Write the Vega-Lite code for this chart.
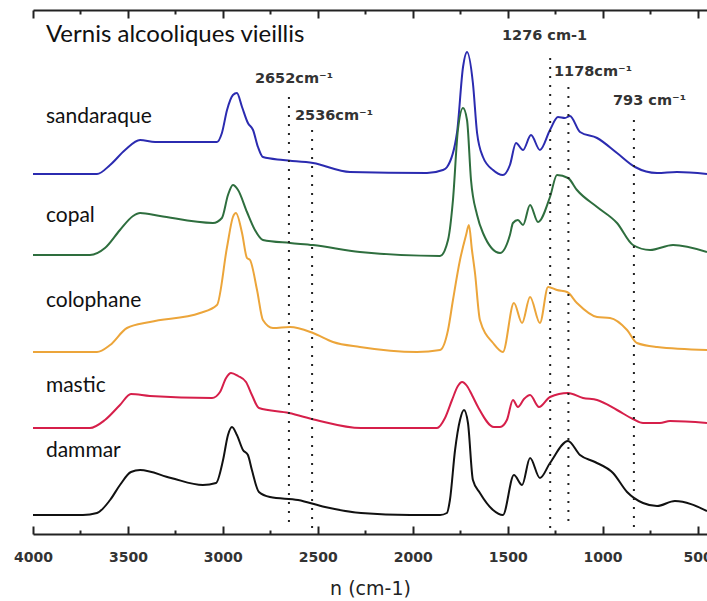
{
  "$schema": "https://vega.github.io/schema/vega-lite/v6.json",
  "width": 674,
  "height": 524,
  "autosize": {"type": "none"},
  "padding": {"left": 33, "top": 10, "right": 0, "bottom": 67},
  "background": "white",
  "config": {"view": {"stroke": null}},
  "datasets": {
    "spectra": [
      {"series": "sandaraque", "wn": 4000, "a": 362}, {"series": "sandaraque", "wn": 3663, "a": 362}, {"series": "sandaraque", "wn": 3594, "a": 371}, {"series": "sandaraque", "wn": 3515, "a": 386}, {"series": "sandaraque", "wn": 3436, "a": 396}, {"series": "sandaraque", "wn": 3357, "a": 394}, {"series": "sandaraque", "wn": 3031, "a": 394}, {"series": "sandaraque", "wn": 3005, "a": 403}, {"series": "sandaraque", "wn": 2978, "a": 426}, {"series": "sandaraque", "wn": 2947, "a": 441}, {"series": "sandaraque", "wn": 2926, "a": 443}, {"series": "sandaraque", "wn": 2899, "a": 429}, {"series": "sandaraque", "wn": 2868, "a": 413}, {"series": "sandaraque", "wn": 2841, "a": 406}, {"series": "sandaraque", "wn": 2815, "a": 389}, {"series": "sandaraque", "wn": 2789, "a": 379}, {"series": "sandaraque", "wn": 2683, "a": 376}, {"series": "sandaraque", "wn": 2525, "a": 373}, {"series": "sandaraque", "wn": 2330, "a": 364}, {"series": "sandaraque", "wn": 1925, "a": 363}, {"series": "sandaraque", "wn": 1841, "a": 366}, {"series": "sandaraque", "wn": 1819, "a": 369}, {"series": "sandaraque", "wn": 1767, "a": 403}, {"series": "sandaraque", "wn": 1735, "a": 469}, {"series": "sandaraque", "wn": 1714, "a": 484}, {"series": "sandaraque", "wn": 1683, "a": 453}, {"series": "sandaraque", "wn": 1661, "a": 403}, {"series": "sandaraque", "wn": 1630, "a": 379}, {"series": "sandaraque", "wn": 1577, "a": 366}, {"series": "sandaraque", "wn": 1525, "a": 361}, {"series": "sandaraque", "wn": 1488, "a": 371}, {"series": "sandaraque", "wn": 1456, "a": 393}, {"series": "sandaraque", "wn": 1419, "a": 386}, {"series": "sandaraque", "wn": 1377, "a": 401}, {"series": "sandaraque", "wn": 1330, "a": 386}, {"series": "sandaraque", "wn": 1277, "a": 406}, {"series": "sandaraque", "wn": 1235, "a": 419}, {"series": "sandaraque", "wn": 1198, "a": 418}, {"series": "sandaraque", "wn": 1172, "a": 420}, {"series": "sandaraque", "wn": 1119, "a": 404}, {"series": "sandaraque", "wn": 1029, "a": 398}, {"series": "sandaraque", "wn": 924, "a": 383}, {"series": "sandaraque", "wn": 829, "a": 369}, {"series": "sandaraque", "wn": 713, "a": 363}, {"series": "sandaraque", "wn": 608, "a": 364}, {"series": "sandaraque", "wn": 450, "a": 362},
      {"series": "copal", "wn": 4000, "a": 281}, {"series": "copal", "wn": 3700, "a": 281}, {"series": "copal", "wn": 3621, "a": 288}, {"series": "copal", "wn": 3542, "a": 306}, {"series": "copal", "wn": 3473, "a": 320}, {"series": "copal", "wn": 3436, "a": 323}, {"series": "copal", "wn": 3331, "a": 320}, {"series": "copal", "wn": 3052, "a": 313}, {"series": "copal", "wn": 3005, "a": 318}, {"series": "copal", "wn": 2973, "a": 341}, {"series": "copal", "wn": 2947, "a": 351}, {"series": "copal", "wn": 2920, "a": 346}, {"series": "copal", "wn": 2873, "a": 324}, {"series": "copal", "wn": 2831, "a": 306}, {"series": "copal", "wn": 2789, "a": 296}, {"series": "copal", "wn": 2646, "a": 293}, {"series": "copal", "wn": 2525, "a": 291}, {"series": "copal", "wn": 2278, "a": 284}, {"series": "copal", "wn": 1856, "a": 280}, {"series": "copal", "wn": 1814, "a": 296}, {"series": "copal", "wn": 1788, "a": 336}, {"series": "copal", "wn": 1762, "a": 406}, {"series": "copal", "wn": 1735, "a": 428}, {"series": "copal", "wn": 1714, "a": 416}, {"series": "copal", "wn": 1693, "a": 356}, {"series": "copal", "wn": 1661, "a": 321}, {"series": "copal", "wn": 1630, "a": 303}, {"series": "copal", "wn": 1540, "a": 283}, {"series": "copal", "wn": 1488, "a": 301}, {"series": "copal", "wn": 1472, "a": 313}, {"series": "copal", "wn": 1446, "a": 316}, {"series": "copal", "wn": 1419, "a": 311}, {"series": "copal", "wn": 1382, "a": 331}, {"series": "copal", "wn": 1340, "a": 314}, {"series": "copal", "wn": 1277, "a": 339}, {"series": "copal", "wn": 1240, "a": 361}, {"series": "copal", "wn": 1182, "a": 358}, {"series": "copal", "wn": 1135, "a": 346}, {"series": "copal", "wn": 1029, "a": 329}, {"series": "copal", "wn": 924, "a": 313}, {"series": "copal", "wn": 840, "a": 291}, {"series": "copal", "wn": 750, "a": 286}, {"series": "copal", "wn": 629, "a": 291}, {"series": "copal", "wn": 450, "a": 284},
      {"series": "colophane", "wn": 4000, "a": 184}, {"series": "colophane", "wn": 3663, "a": 184}, {"series": "colophane", "wn": 3594, "a": 191}, {"series": "colophane", "wn": 3505, "a": 208}, {"series": "colophane", "wn": 3384, "a": 214}, {"series": "colophane", "wn": 3120, "a": 223}, {"series": "colophane", "wn": 3031, "a": 231}, {"series": "colophane", "wn": 2978, "a": 289}, {"series": "colophane", "wn": 2947, "a": 319}, {"series": "colophane", "wn": 2931, "a": 323}, {"series": "colophane", "wn": 2899, "a": 303}, {"series": "colophane", "wn": 2873, "a": 278}, {"series": "colophane", "wn": 2857, "a": 276}, {"series": "colophane", "wn": 2820, "a": 246}, {"series": "colophane", "wn": 2789, "a": 216}, {"series": "colophane", "wn": 2736, "a": 208}, {"series": "colophane", "wn": 2646, "a": 209}, {"series": "colophane", "wn": 2525, "a": 203}, {"series": "colophane", "wn": 2420, "a": 194}, {"series": "colophane", "wn": 2278, "a": 189}, {"series": "colophane", "wn": 1978, "a": 184}, {"series": "colophane", "wn": 1856, "a": 186}, {"series": "colophane", "wn": 1814, "a": 206}, {"series": "colophane", "wn": 1788, "a": 236}, {"series": "colophane", "wn": 1751, "a": 276}, {"series": "colophane", "wn": 1719, "a": 301}, {"series": "colophane", "wn": 1704, "a": 311}, {"series": "colophane", "wn": 1688, "a": 286}, {"series": "colophane", "wn": 1672, "a": 263}, {"series": "colophane", "wn": 1646, "a": 216}, {"series": "colophane", "wn": 1577, "a": 193}, {"series": "colophane", "wn": 1525, "a": 184}, {"series": "colophane", "wn": 1467, "a": 233}, {"series": "colophane", "wn": 1424, "a": 213}, {"series": "colophane", "wn": 1382, "a": 239}, {"series": "colophane", "wn": 1330, "a": 213}, {"series": "colophane", "wn": 1287, "a": 249}, {"series": "colophane", "wn": 1240, "a": 246}, {"series": "colophane", "wn": 1187, "a": 244}, {"series": "colophane", "wn": 1135, "a": 233}, {"series": "colophane", "wn": 1029, "a": 219}, {"series": "colophane", "wn": 961, "a": 218}, {"series": "colophane", "wn": 871, "a": 206}, {"series": "colophane", "wn": 819, "a": 193}, {"series": "colophane", "wn": 713, "a": 189}, {"series": "colophane", "wn": 450, "a": 186},
      {"series": "mastic", "wn": 4000, "a": 108}, {"series": "mastic", "wn": 3700, "a": 108}, {"series": "mastic", "wn": 3621, "a": 116}, {"series": "mastic", "wn": 3542, "a": 131}, {"series": "mastic", "wn": 3484, "a": 142}, {"series": "mastic", "wn": 3384, "a": 140}, {"series": "mastic", "wn": 3057, "a": 138}, {"series": "mastic", "wn": 3015, "a": 144}, {"series": "mastic", "wn": 2983, "a": 158}, {"series": "mastic", "wn": 2957, "a": 163}, {"series": "mastic", "wn": 2920, "a": 160}, {"series": "mastic", "wn": 2878, "a": 154}, {"series": "mastic", "wn": 2847, "a": 141}, {"series": "mastic", "wn": 2810, "a": 128}, {"series": "mastic", "wn": 2652, "a": 123}, {"series": "mastic", "wn": 2509, "a": 116}, {"series": "mastic", "wn": 2272, "a": 108}, {"series": "mastic", "wn": 1872, "a": 108}, {"series": "mastic", "wn": 1830, "a": 118}, {"series": "mastic", "wn": 1793, "a": 136}, {"series": "mastic", "wn": 1762, "a": 150}, {"series": "mastic", "wn": 1740, "a": 154}, {"series": "mastic", "wn": 1714, "a": 150}, {"series": "mastic", "wn": 1688, "a": 141}, {"series": "mastic", "wn": 1656, "a": 129}, {"series": "mastic", "wn": 1572, "a": 109}, {"series": "mastic", "wn": 1540, "a": 109}, {"series": "mastic", "wn": 1504, "a": 116}, {"series": "mastic", "wn": 1472, "a": 136}, {"series": "mastic", "wn": 1446, "a": 129}, {"series": "mastic", "wn": 1414, "a": 137}, {"series": "mastic", "wn": 1382, "a": 141}, {"series": "mastic", "wn": 1335, "a": 129}, {"series": "mastic", "wn": 1277, "a": 139}, {"series": "mastic", "wn": 1182, "a": 143}, {"series": "mastic", "wn": 1103, "a": 138}, {"series": "mastic", "wn": 1029, "a": 136}, {"series": "mastic", "wn": 924, "a": 126}, {"series": "mastic", "wn": 840, "a": 117}, {"series": "mastic", "wn": 787, "a": 113}, {"series": "mastic", "wn": 698, "a": 113}, {"series": "mastic", "wn": 645, "a": 115}, {"series": "mastic", "wn": 450, "a": 113},
      {"series": "dammar", "wn": 4000, "a": 21}, {"series": "dammar", "wn": 3737, "a": 21}, {"series": "dammar", "wn": 3663, "a": 23}, {"series": "dammar", "wn": 3594, "a": 36}, {"series": "dammar", "wn": 3542, "a": 51}, {"series": "dammar", "wn": 3484, "a": 64}, {"series": "dammar", "wn": 3436, "a": 66}, {"series": "dammar", "wn": 3273, "a": 58}, {"series": "dammar", "wn": 3105, "a": 51}, {"series": "dammar", "wn": 3036, "a": 53}, {"series": "dammar", "wn": 2999, "a": 76}, {"series": "dammar", "wn": 2973, "a": 101}, {"series": "dammar", "wn": 2952, "a": 109}, {"series": "dammar", "wn": 2926, "a": 101}, {"series": "dammar", "wn": 2894, "a": 86}, {"series": "dammar", "wn": 2868, "a": 81}, {"series": "dammar", "wn": 2847, "a": 66}, {"series": "dammar", "wn": 2810, "a": 44}, {"series": "dammar", "wn": 2752, "a": 39}, {"series": "dammar", "wn": 2604, "a": 36}, {"series": "dammar", "wn": 2462, "a": 29}, {"series": "dammar", "wn": 2272, "a": 23}, {"series": "dammar", "wn": 2014, "a": 21}, {"series": "dammar", "wn": 1856, "a": 21}, {"series": "dammar", "wn": 1820, "a": 23}, {"series": "dammar", "wn": 1804, "a": 36}, {"series": "dammar", "wn": 1777, "a": 86}, {"series": "dammar", "wn": 1751, "a": 116}, {"series": "dammar", "wn": 1730, "a": 126}, {"series": "dammar", "wn": 1709, "a": 113}, {"series": "dammar", "wn": 1683, "a": 56}, {"series": "dammar", "wn": 1646, "a": 43}, {"series": "dammar", "wn": 1577, "a": 26}, {"series": "dammar", "wn": 1525, "a": 21}, {"series": "dammar", "wn": 1467, "a": 61}, {"series": "dammar", "wn": 1424, "a": 51}, {"series": "dammar", "wn": 1382, "a": 78}, {"series": "dammar", "wn": 1330, "a": 58}, {"series": "dammar", "wn": 1277, "a": 73}, {"series": "dammar", "wn": 1182, "a": 95}, {"series": "dammar", "wn": 1119, "a": 81}, {"series": "dammar", "wn": 1040, "a": 74}, {"series": "dammar", "wn": 945, "a": 63}, {"series": "dammar", "wn": 871, "a": 44}, {"series": "dammar", "wn": 787, "a": 33}, {"series": "dammar", "wn": 713, "a": 30}, {"series": "dammar", "wn": 619, "a": 35}, {"series": "dammar", "wn": 450, "a": 25}
    ],
    "markers": [
      {"label": "2652cm⁻¹", "pos": 2652, "top": 439, "bottom": 8, "lx": 2831, "ly": 453},
      {"label": "2536cm⁻¹", "pos": 2530, "top": 406, "bottom": 8, "lx": 2620, "ly": 416},
      {"label": "1276 cm-1", "pos": 1276, "top": 478, "bottom": 8, "lx": 1530, "ly": 496},
      {"label": "1178cm⁻¹", "pos": 1180, "top": 449, "bottom": 8, "lx": 1256, "ly": 460},
      {"label": "793 cm⁻¹", "pos": 835, "top": 416, "bottom": 8, "lx": 945, "ly": 431}
    ],
    "names": [
      {"text": "sandaraque", "wn": 3932, "a": 413},
      {"text": "copal", "wn": 3932, "a": 314},
      {"text": "colophane", "wn": 3932, "a": 229},
      {"text": "mastic", "wn": 3932, "a": 144},
      {"text": "dammar", "wn": 3932, "a": 79}
    ],
    "heading": [
      {"text": "Vernis alcooliques vieillis", "wn": 3932, "a": 494}
    ]
  },
  "layer": [
    {
      "data": {"name": "spectra"},
      "mark": {"type": "line", "strokeWidth": 2, "interpolate": "monotone"},
      "encoding": {
        "x": {
          "field": "wn", "type": "quantitative",
          "scale": {"domain": [4000, 450], "nice": false, "zero": false},
          "axis": {
            "orient": "bottom",
            "values": [4000, 3750, 3500, 3250, 3000, 2750, 2500, 2250, 2000, 1750, 1500, 1250, 1000, 750, 500],
            "labelExpr": "datum.value % 500 === 0 ? '' + datum.value : ''",
            "tickSize": {"condition": {"test": "datum.value % 500 === 0", "value": -8}, "value": -4},
            "tickColor": "#222", "tickWidth": 2,
            "domainColor": "#222", "domainWidth": 2,
            "grid": false, "labelOverlap": false, "labelFlush": false,
            "labelFont": "DejaVu Sans", "labelFontSize": 14, "labelFontWeight": "bold", "labelColor": "#333",
            "labelPadding": 24,
            "title": "n (cm-1)", "titleFont": "DejaVu Sans", "titleFontSize": 19, "titleFontWeight": "normal", "titleColor": "#222", "titlePadding": 11
          }
        },
        "y": {
          "field": "a", "type": "quantitative",
          "scale": {"domain": [2, 526], "nice": false, "zero": false},
          "axis": {"ticks": false, "labels": false, "grid": false, "title": null, "domain": true, "domainColor": "#222", "domainWidth": 2}
        },
        "color": {
          "field": "series", "type": "nominal",
          "scale": {"domain": ["sandaraque", "copal", "colophane", "mastic", "dammar"], "range": ["#2b2bb0", "#2e6e3e", "#eca53a", "#d61f4a", "#111111"]},
          "legend": null
        }
      }
    },
    {
      "data": {"name": "markers"},
      "mark": {"type": "rule", "strokeDash": [2, 7], "strokeWidth": 2, "color": "#222"},
      "encoding": {
        "x": {
          "field": "pos", "type": "quantitative",
          "axis": {
            "orient": "top",
            "values": [4000, 3750, 3500, 3250, 3000, 2750, 2500, 2250, 2000, 1750, 1500, 1250, 1000, 750, 500],
            "labels": false, "title": null, "grid": false,
            "tickSize": {"condition": {"test": "datum.value % 500 === 0", "value": -8}, "value": -4},
            "tickColor": "#222", "tickWidth": 2,
            "domainColor": "#222", "domainWidth": 2
          }
        },
        "y": {"field": "top", "type": "quantitative", "axis": null},
        "y2": {"field": "bottom"}
      }
    },
    {
      "data": {"name": "markers"},
      "mark": {"type": "text", "align": "left", "baseline": "alphabetic", "font": "DejaVu Sans", "fontWeight": "bold", "fontSize": 14.5, "color": "#333"},
      "encoding": {
        "x": {"field": "lx", "type": "quantitative", "axis": null},
        "y": {"field": "ly", "type": "quantitative", "axis": null},
        "text": {"field": "label"}
      }
    },
    {
      "data": {"name": "names"},
      "mark": {"type": "text", "align": "left", "baseline": "alphabetic", "font": "Lato", "fontSize": 21, "color": "#111"},
      "encoding": {
        "x": {"field": "wn", "type": "quantitative", "axis": null},
        "y": {"field": "a", "type": "quantitative", "axis": null},
        "text": {"field": "text"}
      }
    },
    {
      "data": {"name": "heading"},
      "mark": {"type": "text", "align": "left", "baseline": "alphabetic", "font": "Lato", "fontSize": 24, "color": "#111"},
      "encoding": {
        "x": {"field": "wn", "type": "quantitative", "axis": null},
        "y": {"field": "a", "type": "quantitative", "axis": null},
        "text": {"field": "text"}
      }
    }
  ],
  "resolve": {"axis": {"x": "independent"}}
}
